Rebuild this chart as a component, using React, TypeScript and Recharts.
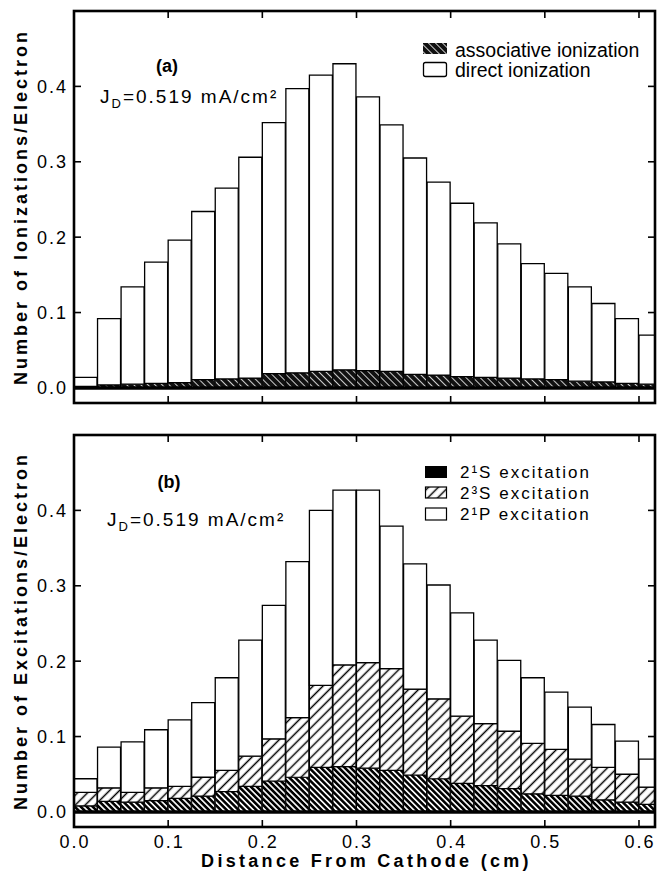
import React from "react";
import { ComposedChart, Bar, XAxis, YAxis, ReferenceLine, Label } from "recharts";

// bin centres (cm), bins are 0.025 cm wide
const distance = [
  0.0125, 0.0375, 0.0625, 0.0875, 0.1125, 0.1375, 0.1625, 0.1875, 0.2125, 0.2375,
  0.2625, 0.2875, 0.3125, 0.3375, 0.3625, 0.3875, 0.4125, 0.4375, 0.4625, 0.4875,
  0.5125, 0.5375, 0.5625, 0.5875, 0.6125,
];

// (a) ionizations per electron
const associativeIon = [
  0.002, 0.004, 0.005, 0.006, 0.007, 0.011, 0.012, 0.013, 0.019, 0.02,
  0.022, 0.024, 0.023, 0.022, 0.018, 0.017, 0.015, 0.014, 0.013, 0.012,
  0.011, 0.009, 0.008, 0.006, 0.005,
];
const directIon = [
  0.012, 0.088, 0.129, 0.161, 0.189, 0.223, 0.253, 0.293, 0.333, 0.377,
  0.393, 0.406, 0.363, 0.327, 0.287, 0.256, 0.23, 0.205, 0.178, 0.153,
  0.141, 0.125, 0.104, 0.086, 0.065,
];

// (b) excitations per electron
const exc21S = [
  0.008, 0.014, 0.013, 0.015, 0.018, 0.021, 0.027, 0.034, 0.041, 0.046,
  0.059, 0.06, 0.058, 0.055, 0.049, 0.044, 0.038, 0.035, 0.031, 0.024,
  0.022, 0.021, 0.016, 0.013, 0.01,
];
const exc23S = [
  0.018, 0.018, 0.013, 0.017, 0.016, 0.025, 0.028, 0.04, 0.056, 0.079,
  0.109, 0.135, 0.14, 0.135, 0.114, 0.106, 0.089, 0.082, 0.076, 0.067,
  0.061, 0.049, 0.043, 0.037, 0.023,
];
const exc21P = [
  0.018, 0.054, 0.067, 0.077, 0.088, 0.099, 0.123, 0.154, 0.177, 0.207,
  0.232, 0.232, 0.229, 0.189, 0.166, 0.151, 0.137, 0.111, 0.094, 0.087,
  0.076, 0.069, 0.057, 0.044, 0.037,
];

const xTicks = [0, 0.1, 0.2, 0.3, 0.4, 0.5, 0.6];
const yTicks = [0, 0.1, 0.2, 0.3, 0.4];
const X_DOMAIN: [number, number] = [0, 0.617];
const Y_DOMAIN: [number, number] = [-0.02, 0.5];

const FONT = '"Liberation Sans", Arial, Helvetica, sans-serif';
const W = 659;
const PLOT_L = 74;
const PLOT_R = 655;
const TICK = 7;

// panel frames in page coordinates (top, bottom)
const TOP_PANEL = { top: 11, bottom: 403 };
const BOT_PANEL = { top: 435, bottom: 827 };

const topData = distance.map((x, i) => ({ x, assoc: associativeIon[i], direct: directIon[i] }));
const bottomData = distance.map((x, i) => ({ x, s1: exc21S[i], s3: exc23S[i], p1: exc21P[i] }));

// left axis tick: inward tick on both sides of the frame + label outside
const yTick = (props: any) => {
  const { y, payload } = props;
  return (
    <g>
      <line x1={PLOT_L} x2={PLOT_L + TICK} y1={y} y2={y} stroke="#000" strokeWidth={1.6} />
      <line x1={PLOT_R - TICK} x2={PLOT_R} y1={y} y2={y} stroke="#000" strokeWidth={1.6} />
      <text x={PLOT_L - 6} y={y} dy="0.36em" textAnchor="end" fontFamily={FONT} fontSize={18} letterSpacing={2} fill="#000">
        {Number(payload.value).toFixed(1)}
      </text>
    </g>
  );
};

// bottom axis tick: inward ticks at bottom and top of the frame, optional label
const makeXTick = (plotTop: number, showLabel: boolean) => (props: any) => {
  const { x, y, payload } = props;
  return (
    <g>
      <line x1={x} x2={x} y1={y} y2={y - TICK} stroke="#000" strokeWidth={1.6} />
      <line x1={x} x2={x} y1={plotTop} y2={plotTop + TICK} stroke="#000" strokeWidth={1.6} />
      {showLabel && (
        <text x={x + 1} y={y + 21} textAnchor="middle" fontFamily={FONT} fontSize={18} letterSpacing={2} fill="#000">
          {Number(payload.value).toFixed(1)}
        </text>
      )}
    </g>
  );
};

const yTitle = (text: string) => (props: any) => {
  const vb = props.viewBox || {};
  const cx = (vb.x ?? 0) + 27;
  const cy = (vb.y ?? 0) + (vb.height ?? 0) / 2;
  return (
    <text
      x={cx}
      y={cy}
      transform={`rotate(-90, ${cx}, ${cy})`}
      textAnchor="middle"
      fontFamily={FONT}
      fontWeight="bold"
      fontSize={18}
      letterSpacing={3}
      fill="#000"
    >
      {text}
    </text>
  );
};

const xTitle = (props: any) => {
  const vb = props.viewBox || {};
  const cx = (vb.x ?? 0) + (vb.width ?? 0) / 2 + 2;
  const cy = (vb.y ?? 0) + (vb.height ?? 0) - 4;
  return (
    <text x={cx} y={cy} textAnchor="middle" fontFamily={FONT} fontWeight="bold" fontSize={18} letterSpacing={3.3} fill="#000">
      Distance From Cathode (cm)
    </text>
  );
};

const Patterns = () => (
  <svg width={0} height={0} style={{ position: "absolute" }}>
    <defs>
      <pattern id="pAssoc" patternUnits="userSpaceOnUse" width={5} height={5} patternTransform="rotate(-45)">
        <rect width={5} height={5} fill="#111" />
        <line x1={2.5} y1={0} x2={2.5} y2={5} stroke="#fff" strokeWidth={0.8} />
      </pattern>
      <pattern id="p21S" patternUnits="userSpaceOnUse" width={4.2} height={4.2} patternTransform="rotate(-45)">
        <rect width={4.2} height={4.2} fill="#fff" />
        <line x1={2.1} y1={0} x2={2.1} y2={4.2} stroke="#000" strokeWidth={2.6} />
      </pattern>
      <pattern id="p23S" patternUnits="userSpaceOnUse" width={7} height={7} patternTransform="rotate(45)">
        <rect width={7} height={7} fill="#fff" />
        <line x1={3.5} y1={0} x2={3.5} y2={7} stroke="#000" strokeWidth={1.5} />
      </pattern>
    </defs>
  </svg>
);

const Overlay = () => (
  <svg
    width={W}
    height={871}
    style={{ position: "absolute", left: 0, top: 0, pointerEvents: "none" }}
    fontFamily={FONT}
  >
    {/* frames */}
    <rect
      x={PLOT_L}
      y={TOP_PANEL.top}
      width={PLOT_R - PLOT_L}
      height={TOP_PANEL.bottom - TOP_PANEL.top}
      fill="none"
      stroke="#000"
      strokeWidth={2.6}
    />
    <rect
      x={PLOT_L}
      y={BOT_PANEL.top}
      width={PLOT_R - PLOT_L}
      height={BOT_PANEL.bottom - BOT_PANEL.top}
      fill="none"
      stroke="#000"
      strokeWidth={2.6}
    />

    {/* panel (a) */}
    <text x={167} y={72} textAnchor="middle" fontWeight="bold" fontSize={18}>(a)</text>
    <text x={100} y={103} fontSize={19} letterSpacing={2}>
      J<tspan dy={5} fontSize={13}>D</tspan>
      <tspan dy={-5}>=0.519 mA/cm²</tspan>
    </text>
    <rect x={423} y={43} width={24} height={11} fill="url(#pAssoc)" />
    <text x={455} y={57} fontSize={19.5}>associative ionization</text>
    <rect x={423.5} y={62.5} width={23} height={14} rx={2} fill="#fff" stroke="#000" strokeWidth={1.3} />
    <text x={455} y={77} fontSize={19.5}>direct ionization</text>

    {/* panel (b) */}
    <text x={169} y={488} textAnchor="middle" fontWeight="bold" fontSize={18}>(b)</text>
    <text x={107} y={526} fontSize={19} letterSpacing={2}>
      J<tspan dy={5} fontSize={13}>D</tspan>
      <tspan dy={-5}>=0.519 mA/cm²</tspan>
    </text>
    <rect x={425} y={466} width={22} height={12} fill="#000" />
    <text x={460} y={478} fontSize={17} letterSpacing={2}>2¹S excitation</text>
    <rect x={425.5} y={487} width={21} height={11} fill="url(#p23S)" stroke="#000" strokeWidth={1.2} />
    <text x={460} y={499} fontSize={17} letterSpacing={2}>2³S excitation</text>
    <rect x={425.5} y={508} width={21} height={12} fill="#fff" stroke="#000" strokeWidth={1.2} />
    <text x={460} y={520} fontSize={17} letterSpacing={2}>2¹P excitation</text>
  </svg>
);

export default function App() {
  return (
    <div style={{ position: "absolute", left: 0, top: 0, width: W, height: 871, background: "#fff" }}>
      <Patterns />
      <div style={{ position: "absolute", left: 0, top: 0 }}>
        <ComposedChart
          width={W}
          height={420}
          data={topData}
          margin={{ top: TOP_PANEL.top, right: W - PLOT_R, bottom: 0, left: 0 }}
          barCategoryGap={0}
          barGap={0}
        >
          <XAxis
            xAxisId="b"
            dataKey="x"
            type="number"
            domain={X_DOMAIN}
            ticks={xTicks}
            allowDataOverflow
            height={420 - TOP_PANEL.bottom}
            tickSize={0}
            tickMargin={0}
            tick={makeXTick(TOP_PANEL.top, false)}
            tickLine={false}
            axisLine={false}
          />
          <YAxis
            yAxisId="l"
            type="number"
            domain={Y_DOMAIN}
            ticks={yTicks}
            allowDataOverflow
            width={PLOT_L}
            tickSize={0}
            tickMargin={0}
            tick={yTick}
            tickLine={false}
            axisLine={false}
          >
            <Label content={yTitle("Number of Ionizations/Electron")} />
          </YAxis>
          <Bar xAxisId="b" yAxisId="l" dataKey="assoc" stackId="a" barSize={23} fill="url(#pAssoc)" stroke="#000" strokeWidth={1} isAnimationActive={false} />
          <Bar xAxisId="b" yAxisId="l" dataKey="direct" stackId="a" barSize={23} fill="#fff" stroke="#000" strokeWidth={1.3} isAnimationActive={false} />
          <ReferenceLine xAxisId="b" yAxisId="l" y={0} stroke="#000" strokeWidth={3.5} />
        </ComposedChart>
      </div>
      <div style={{ position: "absolute", left: 0, top: 420 }}>
        <ComposedChart
          width={W}
          height={451}
          data={bottomData}
          margin={{ top: BOT_PANEL.top - 420, right: W - PLOT_R, bottom: 0, left: 0 }}
          barCategoryGap={0}
          barGap={0}
        >
          <XAxis
            xAxisId="b"
            dataKey="x"
            type="number"
            domain={X_DOMAIN}
            ticks={xTicks}
            allowDataOverflow
            height={871 - BOT_PANEL.bottom}
            tickSize={0}
            tickMargin={0}
            tick={makeXTick(BOT_PANEL.top - 420, true)}
            tickLine={false}
            axisLine={false}
          >
            <Label content={xTitle} />
          </XAxis>
          <YAxis
            yAxisId="l"
            type="number"
            domain={Y_DOMAIN}
            ticks={yTicks}
            allowDataOverflow
            width={PLOT_L}
            tickSize={0}
            tickMargin={0}
            tick={yTick}
            tickLine={false}
            axisLine={false}
          >
            <Label content={yTitle("Number of Excitations/Electron")} />
          </YAxis>
          <Bar xAxisId="b" yAxisId="l" dataKey="s1" stackId="a" barSize={23} fill="url(#p21S)" stroke="#000" strokeWidth={1} isAnimationActive={false} />
          <Bar xAxisId="b" yAxisId="l" dataKey="s3" stackId="a" barSize={23} fill="url(#p23S)" stroke="#000" strokeWidth={1.2} isAnimationActive={false} />
          <Bar xAxisId="b" yAxisId="l" dataKey="p1" stackId="a" barSize={23} fill="#fff" stroke="#000" strokeWidth={1.3} isAnimationActive={false} />
          <ReferenceLine xAxisId="b" yAxisId="l" y={0} stroke="#000" strokeWidth={3.5} />
        </ComposedChart>
      </div>
      <Overlay />
    </div>
  );
}
